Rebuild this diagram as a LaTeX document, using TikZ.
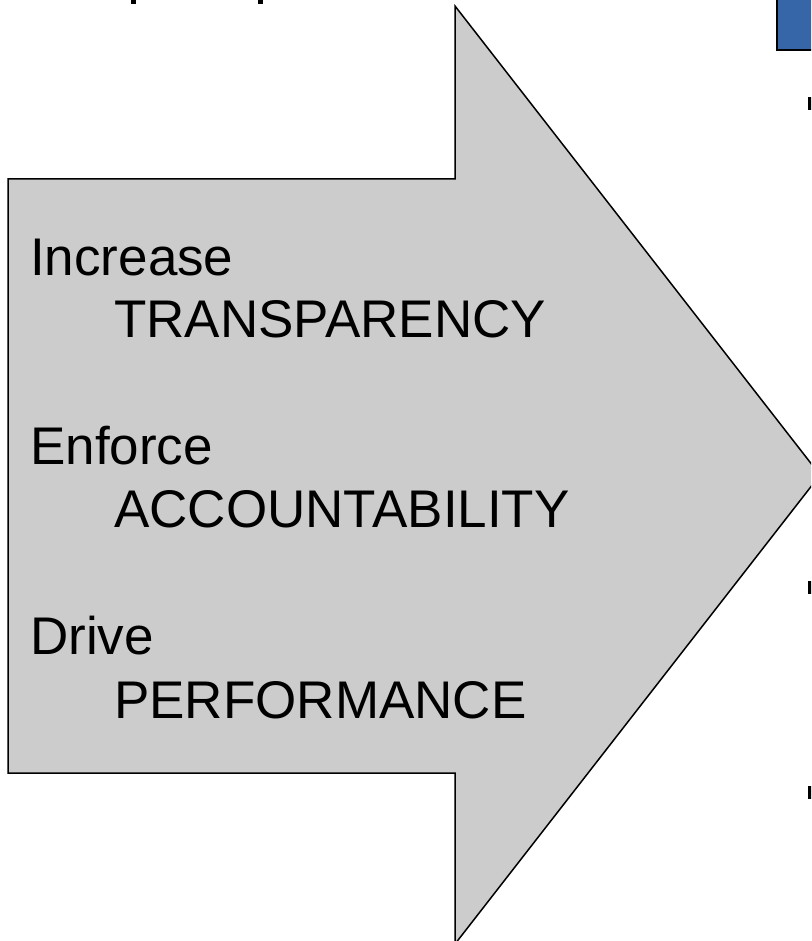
\documentclass[tikz,border=0pt]{standalone}
\usepackage{fontspec}
\setmainfont{Liberation Sans}
\definecolor{arrowgray}{RGB}{204,204,204}
\definecolor{boxblue}{RGB}{54,101,168}
\tikzset{
  verb/.style={anchor=base west, inner sep=0pt, font=\fontsize{53}{60}\selectfont, text=black},
  frag/.style={fill=black, draw=none},
}
\begin{document}
\begin{tikzpicture}[x=1pt, y=-1pt]
\useasboundingbox (0,0) rectangle (811,941);
\clip (0,0) rectangle (811,941);
% big arrow
\draw[line width=1.5pt, fill=arrowgray, line join=miter]
  (8,179) -- (455,179) -- (455,6) -- (820,475) -- (455,944) -- (455,773) -- (8,773) -- cycle;
% blue box at top right
\draw[line width=1.5pt, fill=boxblue] (777,-5) rectangle (820,50);
% cut-off fragments
\fill[frag] (131,0) rectangle (136,4);
\fill[frag] (258,0) rectangle (263,4);
\fill[frag] (808,97) rectangle (812,110);
\fill[frag] (808,581) rectangle (812,594);
\fill[frag] (808,786) rectangle (812,799);
% texts
\node[verb] (t1) at (30,275) {Increase};
\node[verb] (t2) at (114,337) {TRANSPARENCY};
\node[verb] (t3) at (30,464) {Enforce};
\node[verb] (t4) at (114,527) {ACCOUNTABILITY};
\node[verb] (t5) at (30,654) {Drive};
\node[verb] (t6) at (114,718) {PERFORMANCE};
\end{tikzpicture}
\end{document}
